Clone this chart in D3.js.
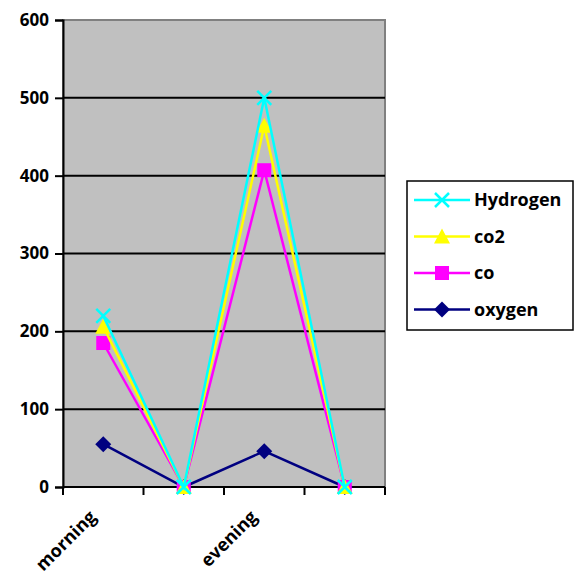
<!DOCTYPE html>
<html>
<head>
<meta charset="utf-8">
<script src="https://cdn.jsdelivr.net/npm/d3@7"></script>
<style>
  body { margin: 0; background: #fff; }
  text { font-family: "Open Sans", Lato, sans-serif; font-weight: bold; }
</style>
</head>
<body>
<div id="chart"></div>
<script>
const categories = ["morning", "afternoon", "evening", "night"];
const hydrogen = [220, 0, 500, 0];
const co2 = [206, 0, 464, 0];
const co = [185, 0, 407, 0];
const oxygen = [55, 0, 46, 0];
const yTicks = [0, 100, 200, 300, 400, 500, 600];

const series = [
  { name: "Hydrogen", values: hydrogen, color: "#00ffff", marker: "x" },
  { name: "co2", values: co2, color: "#ffff00", marker: "triangle" },
  { name: "co", values: co, color: "#ff00ff", marker: "square" },
  { name: "oxygen", values: oxygen, color: "#000080", marker: "diamond" }
];

var svg = d3.select("#chart").append("svg").attr("width", 574).attr("height", 577);
var margin = { left: 63, top: 20, right: 189, bottom: 90 };
var width = 574 - margin.left - margin.right,
    height = 577 - margin.top - margin.bottom;

var x = d3.scaleBand().domain(categories).range([0, width]);
var y = d3.scaleLinear().domain([0, 600]).range([height, 0]);

var g = svg.append("g").attr("transform", "translate(" + margin.left + "," + margin.top + ")");

g.append("rect").attr("width", width).attr("height", height)
  .attr("fill", "#c0c0c0").attr("stroke", "#808080").attr("stroke-width", 2);

// gridlines
g.selectAll(".grid").data(yTicks.filter(d => d > 0 && d < 600)).enter().append("line")
  .attr("x1", 0).attr("x2", width)
  .attr("y1", d => y(d)).attr("y2", d => y(d))
  .attr("stroke", "#000").attr("stroke-width", 2);

// y axis
var yAxis = g.append("g").call(d3.axisLeft(y).tickValues(yTicks).tickSize(8).tickPadding(6));
yAxis.select(".domain").attr("stroke-width", 2);
yAxis.selectAll(".tick line").attr("stroke-width", 2);
yAxis.selectAll("text").style("font-size", "17px").attr("fill", "#000");

// x axis
var xAxis = g.append("g").attr("transform", "translate(0," + height + ")");
xAxis.append("line").attr("x1", 0).attr("x2", width).attr("stroke", "#000").attr("stroke-width", 2);
var bounds = d3.range(categories.length + 1).map(i => i * x.bandwidth());
xAxis.selectAll(".xt").data(bounds).enter().append("line")
  .attr("x1", d => d).attr("x2", d => d).attr("y1", 0).attr("y2", 8)
  .attr("stroke", "#000").attr("stroke-width", 2);
xAxis.selectAll(".xl").data(categories.filter((d, i) => i % 2 === 0)).enter().append("text")
  .attr("text-anchor", "end")
  .attr("transform", d => "translate(" + (x(d) + x.bandwidth() / 2 - 6) + ",31) rotate(-45)")
  .style("font-size", "18px")
  .text(d => d);

var line = d3.line().x((d, i) => x(categories[i]) + x.bandwidth() / 2).y(d => y(d));

function drawMarker(sel, type, color, s) {
  if (type === "x") {
    sel.append("path").attr("d", "M" + (-s) + "," + (-s) + "L" + s + "," + s + "M" + (-s) + "," + s + "L" + s + "," + (-s))
      .attr("stroke", color).attr("stroke-width", 2.5).attr("fill", "none");
  } else if (type === "triangle") {
    sel.append("path").attr("d", "M0," + (-s - 1) + "L" + (s + 1) + "," + (s) + "L" + (-s - 1) + "," + s + "Z").attr("fill", color);
  } else if (type === "square") {
    sel.append("rect").attr("x", -s).attr("y", -s).attr("width", 2 * s).attr("height", 2 * s).attr("fill", color);
  } else {
    sel.append("path").attr("d", "M0," + (-s - 1) + "L" + (s + 1) + ",0L0," + (s + 1) + "L" + (-s - 1) + ",0Z").attr("fill", color);
  }
}

// draw bottom-up so Hydrogen is on top
series.slice().reverse().forEach(function (s) {
  g.append("path").datum(s.values).attr("d", line)
    .attr("fill", "none").attr("stroke", s.color).attr("stroke-width", 2.5);
  s.values.forEach(function (v, i) {
    var m = g.append("g").attr("transform", "translate(" + (x(categories[i]) + x.bandwidth() / 2) + "," + y(v) + ")");
    drawMarker(m, s.marker, s.color, 7);
  });
});

// legend
var lg = svg.append("g").attr("transform", "translate(407,181)");
lg.append("rect").attr("width", 166).attr("height", 149).attr("fill", "#fff").attr("stroke", "#000").attr("stroke-width", 1.5);
series.forEach(function (s, i) {
  var row = lg.append("g").attr("transform", "translate(0," + (19 + i * 36.5) + ")");
  row.append("line").attr("x1", 7).attr("x2", 63).attr("stroke", s.color).attr("stroke-width", 2.5);
  var m = row.append("g").attr("transform", "translate(35,0)");
  drawMarker(m, s.marker, s.color, 7);
  row.append("text").attr("x", 67).attr("y", 6).style("font-size", "18px").text(s.name);
});
</script>
</body>
</html>
